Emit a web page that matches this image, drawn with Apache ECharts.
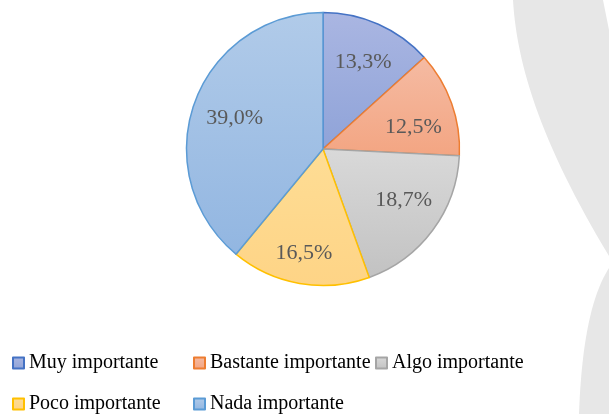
<!DOCTYPE html>
<html>
<head>
<meta charset="utf-8">
<script src="https://cdn.jsdelivr.net/npm/echarts@6/dist/echarts.min.js"></script>
<style>
  html, body { margin: 0; padding: 0; background: #fff; }
  #chart { width: 609px; height: 414px; }
</style>
</head>
<body>
<div id="chart"></div>
<script>
var categories = ['Muy importante', 'Bastante importante', 'Algo importante', 'Poco importante', 'Nada importante']
var values = [13.3, 12.5, 18.7, 16.5, 39.0]

// fill gradient (top, bottom) and border per slice
var fillTop = ['#aab6e2', '#f5bba3', '#d9d9d9', '#fedd95', '#b1cbe9']
var fillBottom = ['#8fa3d8', '#f3a582', '#c2c2c2', '#fed486', '#92b6e1']
var borders = ['#4472c4', '#ed7d31', '#a5a5a5', '#ffc000', '#5b9bd5']

// legend grid: column x and row y (top of each item)
var legendLeft = [12, 193, 375, 12, 193]
var legendTop = [353, 353, 353, 394, 394]

// small nudges so the labels sit where Excel put them
var labelNudge = [[0, 4], [-3, 12], [1, -8], [-2, 6], [5, 3]]

var serif = '"Liberation Serif", "DejaVu Serif", serif'
var myChart = echarts.init(document.getElementById('chart'))

// sample a cubic bezier into polygon points (for the grey background swooshes)
function bezier(p0, p1, p2, p3, n) {
  var pts = []
  for (var i = 0; i <= n; i++) {
    var t = i / n, u = 1 - t
    pts.push([
      u * u * u * p0[0] + 3 * u * u * t * p1[0] + 3 * u * t * t * p2[0] + t * t * t * p3[0],
      u * u * u * p0[1] + 3 * u * u * t * p1[1] + 3 * u * t * t * p2[1] + t * t * t * p3[1]
    ])
  }
  return pts
}

var swoosh1 = [[513, 0]]
  .concat(bezier([603, 0], [605, 10], [607, 20], [609, 30], 10))
  .concat(bezier([609, 256], [545, 150], [517, 70], [513, 0], 30))
var swoosh2 = bezier([609, 268], [595, 290], [582, 330], [579, 414], 30).concat([[609, 414]])

var pieData = categories.map(function(name, i) {
  return {
    name: name,
    value: values[i],
    itemStyle: {
      color: {
        type: 'linear', x: 0, y: 0, x2: 0, y2: 1,
        colorStops: [
          { offset: 0, color: fillTop[i] },
          { offset: 1, color: fillBottom[i] }
        ]
      },
      borderColor: borders[i],
      borderWidth: 1.5
    }
  }
})

// same values, only used to place the labels further out
var labelData = categories.map(function(name, i) {
  return { name: name, value: values[i] }
})

// one legend per entry so they sit on Excel's column grid
var legends = categories.map(function(name, i) {
  return {
    left: legendLeft[i],
    top: legendTop[i],
    padding: 0,
    itemWidth: 11,
    itemHeight: 11,
    icon: 'rect',
    selectedMode: false,
    data: [name],
    textStyle: { fontFamily: serif, fontSize: 20, color: '#000', lineHeight: 20 }
  }
})

var option = {
  animation: false,
  graphic: [
    { type: 'polygon', z: -10, shape: { points: swoosh1 }, style: { fill: '#e7e7e7' } },
    { type: 'polygon', z: -10, shape: { points: swoosh2 }, style: { fill: '#e7e7e7' } }
  ],
  legend: legends,
  series: [
    {
      name: 'pie',
      type: 'pie',
      center: [323, 149],
      radius: 136.5,
      startAngle: 90,
      clockwise: true,
      silent: true,
      label: { show: false },
      labelLine: { show: false },
      data: pieData
    },
    {
      name: 'labels',
      type: 'pie',
      center: [323, 149],
      radius: [56, 136.5],
      startAngle: 90,
      clockwise: true,
      silent: true,
      itemStyle: { color: 'rgba(0,0,0,0)', borderWidth: 0 },
      label: {
        show: true,
        position: 'inside',
        fontFamily: serif,
        fontSize: 22,
        color: '#595959',
        formatter: function(params) {
          return params.value.toFixed(1).replace('.', ',') + '%'
        }
      },
      labelLayout: function(params) {
        var n = labelNudge[params.dataIndex]
        return { dx: n[0], dy: n[1] }
      },
      labelLine: { show: false },
      data: labelData
    }
  ]
}

myChart.setOption(option)
</script>
</body>
</html>
